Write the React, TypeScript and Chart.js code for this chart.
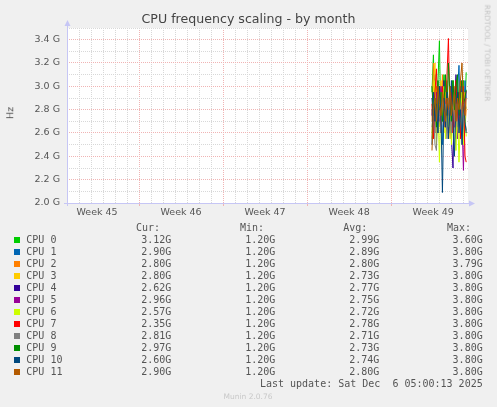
import React, { useEffect, useRef } from "react";
import { Chart, registerables } from "chart.js";

Chart.register(...registerables);

// time axis in days counted from Mon 3 Nov 00:00 (start of week 45)
const times = [31.40, 31.52, 31.65, 31.77, 31.90, 32.02, 32.15, 32.27, 32.40, 32.52, 32.65, 32.77, 32.90, 33.02, 33.15, 33.27, 33.40, 33.52, 33.65, 33.77, 33.90, 34.02, 34.15, 34.25];

const weekLabels = ["Week 45", "Week 46", "Week 47", "Week 48", "Week 49"];
const yTickLabels = ["2.0 G", "2.2 G", "2.4 G", "2.6 G", "2.8 G", "3.0 G", "3.2 G", "3.4 G"];

const cpu0 = [2.95, 3.27, 2.70, 2.85, 3.05, 3.39, 2.60, 2.90, 3.10, 2.75, 2.95, 2.65, 3.00, 2.80, 3.05, 2.70, 2.90, 3.08, 2.75, 2.95, 2.85, 3.05, 2.80, 3.12];
const cpu1 = [2.80, 2.60, 3.10, 2.55, 2.95, 2.70, 3.00, 2.50, 2.85, 3.05, 2.65, 2.90, 2.60, 3.00, 2.75, 2.85, 2.55, 2.95, 3.18, 2.70, 2.95, 2.55, 3.05, 2.90];
const cpu2 = [2.70, 3.20, 2.85, 3.00, 2.60, 2.95, 2.75, 3.10, 2.70, 2.90, 3.05, 2.80, 2.65, 2.95, 2.85, 3.00, 2.70, 2.90, 2.80, 3.05, 2.75, 2.95, 2.65, 2.80];
const cpu3 = [2.55, 3.00, 3.20, 2.70, 2.85, 2.65, 3.05, 2.80, 2.60, 2.95, 2.75, 2.90, 2.55, 2.85, 3.00, 2.65, 2.80, 2.60, 2.95, 2.70, 2.85, 2.75, 2.95, 2.80];
const cpu4 = [2.90, 2.70, 2.95, 2.80, 2.60, 3.00, 2.85, 2.70, 3.05, 2.65, 2.90, 2.75, 3.00, 2.55, 2.30, 2.85, 3.10, 2.70, 2.95, 2.60, 3.05, 2.80, 2.70, 2.62];
const cpu5 = [2.75, 2.85, 2.60, 2.95, 2.80, 2.70, 3.00, 2.85, 2.65, 2.80, 2.95, 2.60, 2.85, 2.75, 3.00, 2.65, 2.90, 2.55, 2.80, 3.00, 2.70, 2.28, 2.85, 2.96];
const cpu6 = [2.60, 2.90, 3.05, 2.50, 2.85, 2.35, 2.95, 2.70, 3.00, 2.55, 2.80, 2.65, 2.95, 2.50, 2.75, 2.90, 2.45, 2.85, 2.35, 2.70, 2.95, 2.50, 2.75, 2.57];
const cpu7 = [2.85, 2.55, 2.95, 3.15, 2.70, 2.90, 2.60, 3.00, 2.80, 2.65, 3.10, 3.41, 2.75, 2.95, 2.60, 2.85, 3.05, 2.70, 2.90, 2.55, 2.80, 3.00, 2.40, 2.35];
const cpu8 = [2.65, 2.80, 2.50, 2.45, 2.90, 2.75, 2.60, 2.95, 2.70, 2.85, 2.55, 2.90, 2.75, 2.60, 2.95, 2.70, 2.85, 2.65, 2.80, 2.90, 2.60, 2.75, 2.85, 2.81];
const cpu9 = [3.00, 2.75, 2.90, 2.65, 3.05, 2.80, 2.95, 2.70, 2.85, 3.10, 2.75, 3.20, 2.90, 2.70, 3.05, 2.80, 3.00, 3.10, 2.75, 2.95, 3.05, 2.85, 2.90, 2.97];
const cpu10 = [2.50, 2.95, 2.70, 2.85, 2.60, 3.00, 2.75, 2.09, 2.90, 2.65, 2.95, 2.55, 2.80, 3.05, 2.70, 2.40, 2.85, 2.95, 2.60, 2.80, 2.50, 2.90, 2.70, 2.60];
const cpu11 = [2.45, 2.80, 2.90, 2.70, 3.00, 2.85, 2.75, 2.95, 2.80, 2.70, 2.90, 2.80, 3.00, 2.75, 2.85, 2.95, 2.70, 2.90, 2.80, 3.05, 3.20, 2.85, 2.75, 2.90];

const series = [cpu0, cpu1, cpu2, cpu3, cpu4, cpu5, cpu6, cpu7, cpu8, cpu9, cpu10, cpu11];
const names = ["CPU 0", "CPU 1", "CPU 2", "CPU 3", "CPU 4", "CPU 5", "CPU 6", "CPU 7", "CPU 8", "CPU 9", "CPU 10", "CPU 11"];
const colors = ["#00CC00", "#0066B3", "#FF8000", "#FFCC00", "#330099", "#990099", "#CCFF00", "#FF0000", "#808080", "#008F00", "#00487D", "#B35A00"];
const curVals = ["3.12G", "2.90G", "2.80G", "2.80G", "2.62G", "2.96G", "2.57G", "2.35G", "2.81G", "2.97G", "2.60G", "2.90G"];
const minVals = ["1.20G", "1.20G", "1.20G", "1.20G", "1.20G", "1.20G", "1.20G", "1.20G", "1.20G", "1.20G", "1.20G", "1.20G"];
const avgVals = ["2.99G", "2.89G", "2.80G", "2.73G", "2.77G", "2.75G", "2.72G", "2.78G", "2.71G", "2.73G", "2.74G", "2.80G"];
const maxVals = ["3.60G", "3.80G", "3.79G", "3.80G", "3.80G", "3.80G", "3.80G", "3.80G", "3.80G", "3.80G", "3.80G", "3.80G"];

const MINOR = "#d8d8d8";
const MAJOR = "#f0b4b4";
const AXIS = "#c6c6f5";

const frame = {
  id: "frame",
  beforeDraw(chart: any) {
    const { ctx, chartArea: a } = chart;
    ctx.save();
    ctx.fillStyle = "#ffffff";
    ctx.fillRect(a.left, a.top, a.right - a.left, a.bottom - a.top);
    ctx.restore();
  },
  afterDraw(chart: any) {
    const { ctx, chartArea: a } = chart;
    ctx.save();
    ctx.strokeStyle = AXIS;
    ctx.fillStyle = AXIS;
    ctx.lineWidth = 1;
    ctx.beginPath();
    ctx.moveTo(a.left + 0.5, a.bottom + 3);
    ctx.lineTo(a.left + 0.5, a.top - 3);
    ctx.moveTo(a.left - 3, a.bottom + 0.5);
    ctx.lineTo(a.right + 2, a.bottom + 0.5);
    ctx.stroke();
    ctx.beginPath();
    ctx.moveTo(a.left + 0.5, a.top - 8);
    ctx.lineTo(a.left + 3.5, a.top - 2);
    ctx.lineTo(a.left - 2.5, a.top - 2);
    ctx.closePath();
    ctx.fill();
    ctx.beginPath();
    ctx.moveTo(a.right + 7, a.bottom + 0.5);
    ctx.lineTo(a.right + 1, a.bottom - 2.5);
    ctx.lineTo(a.right + 1, a.bottom + 3.5);
    ctx.closePath();
    ctx.fill();
    ctx.restore();
  },
};

const mono = "'DejaVu Sans Mono', monospace";
const sans = "'DejaVu Sans', sans-serif";

function T(props: { x: number; base: number; size: number; text: string; color?: string; font?: string; align?: "left" | "right" | "center"; width?: number }) {
  const { x, base, size, text, color = "#555", font = mono, align = "left", width } = props;
  const top = base - 0.946 * size;
  const style: React.CSSProperties = {
    position: "absolute",
    top,
    fontFamily: font,
    fontSize: size,
    lineHeight: 1.2,
    color,
    whiteSpace: "pre",
  };
  if (align === "right") {
    style.right = 497 - x;
  } else if (align === "center") {
    style.left = x - (width || 0) / 2;
    style.width = width;
    style.textAlign = "center";
  } else {
    style.left = x;
  }
  return <div style={style}>{text}</div>;
}

export default function App() {
  const ref = useRef<HTMLCanvasElement>(null);
  useEffect(() => {
    document.body.style.margin = "0";
    const datasets = series.map((vals, i) => ({
      label: names[i],
      data: vals.map((v, j) => ({ x: times[j], y: v })),
      borderColor: colors[i],
      backgroundColor: colors[i],
      borderWidth: 1,
      pointRadius: 0,
      tension: 0,
      fill: false,
      order: series.length - 1 - i,
    }));
    const chart = new Chart(ref.current as HTMLCanvasElement, {
      type: "line",
      data: { datasets },
      plugins: [frame],
      options: {
        animation: false,
        responsive: false,
        devicePixelRatio: 1,
        layout: { padding: { left: 0, right: 29, top: 28, bottom: 0 } },
        plugins: { legend: { display: false }, tooltip: { enabled: false }, title: { display: false } },
        scales: {
          x: {
            type: "linear",
            min: 1,
            max: 34.4,
            afterBuildTicks(scale: any) {
              const t: any[] = [];
              for (let d = 1; d <= 34; d++) t.push({ value: d });
              weekLabels.forEach((_, k) => t.push({ value: 3.5 + 7 * k }));
              t.sort((p, q) => p.value - q.value);
              scale.ticks = t;
            },
            afterFit(scale: any) {
              scale.height = 204;
            },
            border: { display: false, dash: [1, 1] },
            grid: {
              color: (c: any) => {
                const v = c.tick ? c.tick.value : 0;
                if (!Number.isInteger(v)) return "rgba(0,0,0,0)";
                return v % 7 === 0 ? MAJOR : MINOR;
              },
              tickColor: (c: any) => {
                const v = c.tick ? c.tick.value : 0;
                return Number.isInteger(v) && v % 7 === 0 ? MAJOR : "rgba(0,0,0,0)";
              },
              tickLength: 3,
              lineWidth: 1,
            },
            ticks: {
              autoSkip: false,
              maxRotation: 0,
              padding: 1,
              color: "#555",
              font: { family: "DejaVu Sans", size: 9.5 },
              callback: (v: any) => {
                const k = (Number(v) - 3.5) / 7;
                return Number.isInteger(k) && weekLabels[k] ? weekLabels[k] : "";
              },
            },
          },
          y: {
            type: "linear",
            min: 2.0,
            max: 3.5,
            afterFit(scale: any) {
              scale.width = 67;
            },
            border: { display: false, dash: [1, 1] },
            grid: {
              drawTicks: false,
              color: (c: any) => {
                const v = c.tick ? c.tick.value : 0;
                const k = Math.round(v * 10);
                return k % 2 === 0 && k < 35 ? MAJOR : MINOR;
              },
              lineWidth: 1,
            },
            ticks: {
              stepSize: 0.1,
              autoSkip: false,
              padding: 7,
              color: "#555",
              font: { family: "DejaVu Sans", size: 9.5 },
              callback: (v: any) => {
                const k = Math.round(Number(v) * 10);
                if (k % 2 !== 0) return "";
                return yTickLabels[(k - 20) / 2] || "";
              },
            },
          },
        },
      } as any,
    });
    return () => chart.destroy();
  }, []);

  return (
    <div style={{ position: "fixed", left: 0, top: 0, width: 497, height: 407, background: "#f0f0f0", overflow: "hidden" }}>
      <canvas ref={ref} width={497} height={407} style={{ position: "absolute", left: 0, top: 0, width: 497, height: 407 }} />
      <T x={248.5} width={497} align="center" base={23.3} size={12.6} font={sans} color="#444" text="CPU frequency scaling - by month" />
      <div style={{ position: "absolute", left: 10, top: 113, transform: "translate(-50%,-50%) rotate(-90deg)", fontFamily: sans, fontSize: 9.5, color: "#555", whiteSpace: "nowrap", lineHeight: 1 }}>Hz</div>
      <div style={{ position: "absolute", left: 487, top: 53, transform: "translate(-50%,-50%) rotate(90deg)", fontFamily: sans, fontSize: 7.5, color: "#c4c4c4", whiteSpace: "nowrap", lineHeight: 1 }}>RRDTOOL / TOBI OETIKER</div>
      <T x={160} align="right" base={231.3} size={10} text="Cur:" />
      <T x={264} align="right" base={231.3} size={10} text="Min:" />
      <T x={367.3} align="right" base={231.3} size={10} text="Avg:" />
      <T x={471} align="right" base={231.3} size={10} text="Max:" />
      {names.map((n, i) => (
        <React.Fragment key={n}>
          <div style={{ position: "absolute", left: 14, top: 237 + 12 * i, width: 6, height: 6, background: colors[i] }} />
          <T x={26.3} base={243.3 + 12 * i} size={10} text={n} />
          <T x={171.3} align="right" base={243.3 + 12 * i} size={10} text={curVals[i]} />
          <T x={275.3} align="right" base={243.3 + 12 * i} size={10} text={minVals[i]} />
          <T x={379.3} align="right" base={243.3 + 12 * i} size={10} text={avgVals[i]} />
          <T x={482.7} align="right" base={243.3 + 12 * i} size={10} text={maxVals[i]} />
        </React.Fragment>
      ))}
      <T x={482.7} align="right" base={387.3} size={10} text="Last update: Sat Dec  6 05:00:13 2025" />
      <T x={248} width={200} align="center" base={399} size={7.5} font={sans} color="#c8c8c8" text="Munin 2.0.76" />
    </div>
  );
}
